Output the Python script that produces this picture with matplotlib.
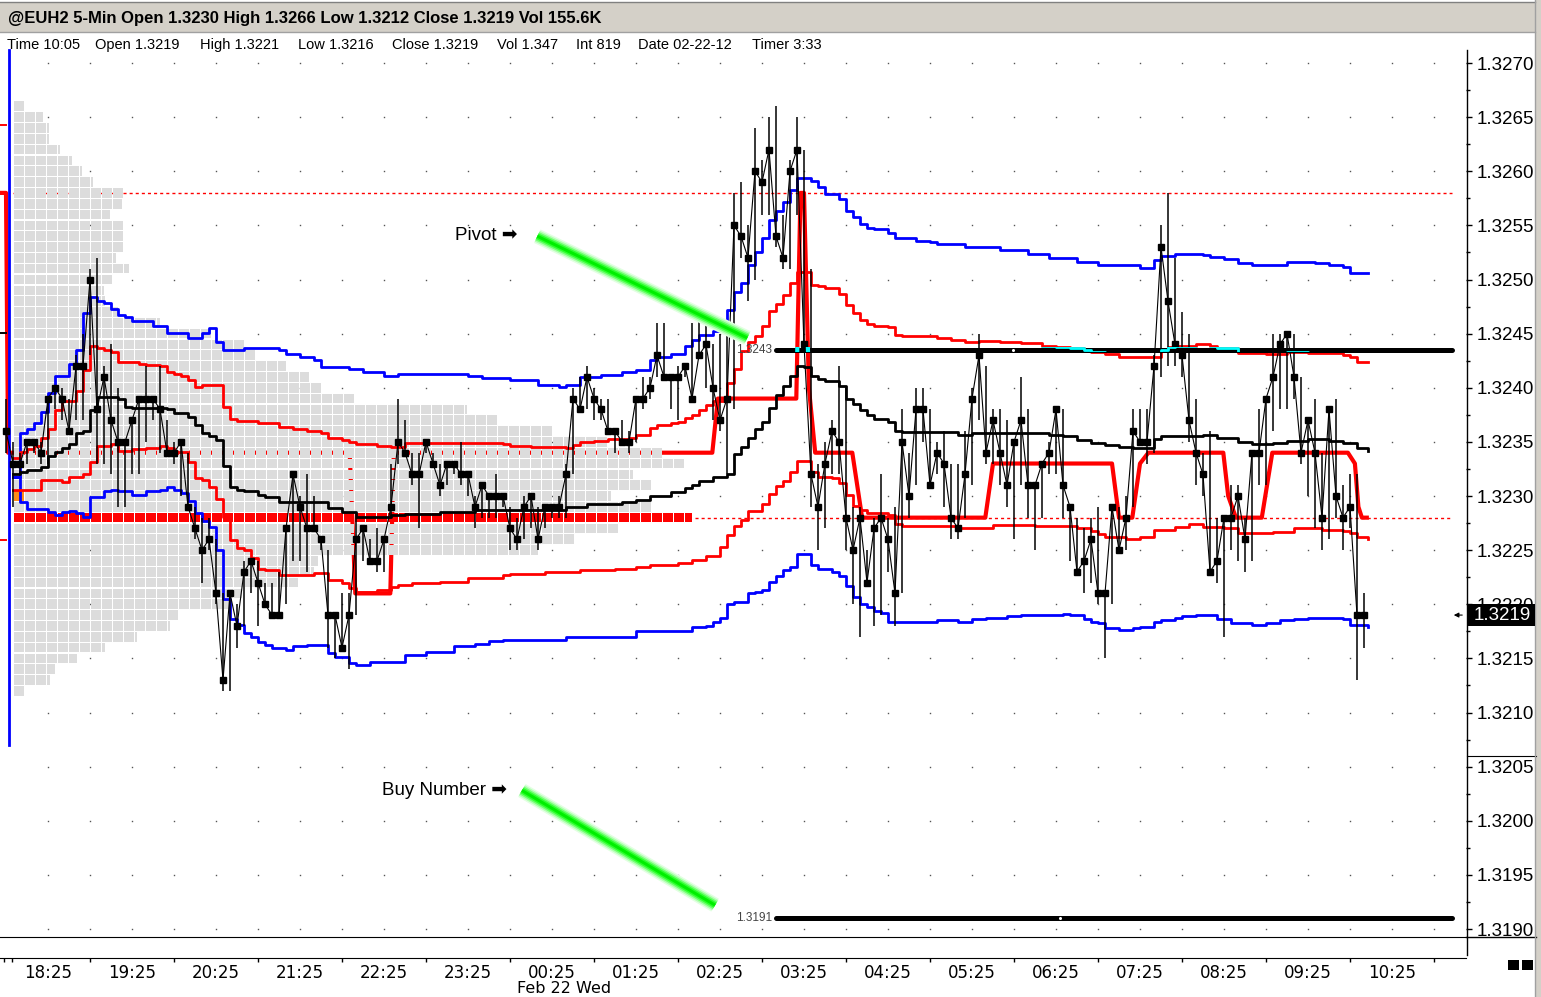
import numpy as np
import matplotlib
matplotlib.use("Agg")
import matplotlib.pyplot as plt
from matplotlib.patches import Rectangle
from matplotlib.collections import PatchCollection
from matplotlib.lines import Line2D
from matplotlib import font_manager, transforms

# ---------------------------------------------------------------- data
title_text = "@EUH2 5-Min Open 1.3230 High 1.3266 Low 1.3212 Close 1.3219 Vol 155.6K"
info_items = ["Time 10:05", "Open 1.3219", "High 1.3221", "Low 1.3216", "Close 1.3219",
              "Vol 1.347", "Int 819", "Date 02-22-12", "Timer 3:33"]
date_label = "Feb 22 Wed"
time_labels = ["18:25", "19:25", "20:25", "21:25", "22:25", "23:25", "00:25", "01:25", "02:25",
               "03:25", "04:25", "05:25", "06:25", "07:25", "08:25", "09:25", "10:25"]
price_ticks = [1.3190, 1.3195, 1.3200, 1.3205, 1.3210, 1.3215, 1.3220, 1.3225, 1.3230,
               1.3235, 1.3240, 1.3245, 1.3250, 1.3255, 1.3260, 1.3265, 1.3270]

first_bar = -1          # the 17:55 bar; bar 0 is the 18:00 session open
session_open = 1.3230
closes = [1.3236,
    1.3233, 1.3233, 1.3235, 1.3235, 1.3234, 1.3239, 1.3240, 1.3239, 1.3236, 1.3242, 1.3242, 1.3250,
    1.3238, 1.3241, 1.3237, 1.3235, 1.3235, 1.3237, 1.3239, 1.3239, 1.3239, 1.3238, 1.3234, 1.3234,
    1.3235, 1.3229, 1.3227, 1.3225, 1.3226, 1.3221, 1.3213, 1.3221, 1.3218, 1.3223, 1.3224, 1.3222,
    1.3220, 1.3219, 1.3219, 1.3227, 1.3232, 1.3229, 1.3227, 1.3227, 1.3226, 1.3219, 1.3219, 1.3216,
    1.3219, 1.3226, 1.3227, 1.3224, 1.3224, 1.3226, 1.3229, 1.3235, 1.3234, 1.3232, 1.3232, 1.3235,
    1.3233, 1.3231, 1.3233, 1.3233, 1.3232, 1.3232, 1.3229, 1.3231, 1.3230, 1.3230, 1.3230, 1.3227,
    1.3226, 1.3229, 1.3230, 1.3226, 1.3229, 1.3229, 1.3229, 1.3232, 1.3239, 1.3238, 1.3241, 1.3239,
    1.3238, 1.3236, 1.3236, 1.3235, 1.3235, 1.3239, 1.3239, 1.3240, 1.3243, 1.3241, 1.3241, 1.3241,
    1.3242, 1.3239, 1.3243, 1.3244, 1.3240, 1.3237, 1.3239, 1.3255, 1.3254, 1.3252, 1.3260, 1.3259,
    1.3262, 1.3254, 1.3252, 1.3260, 1.3262, 1.3244, 1.3232, 1.3229, 1.3233, 1.3236, 1.3235, 1.3228,
    1.3225, 1.3228, 1.3222, 1.3227, 1.3228, 1.3226, 1.3221, 1.3235, 1.3230, 1.3238, 1.3238, 1.3231,
    1.3234, 1.3233, 1.3228, 1.3227, 1.3232, 1.3239, 1.3243, 1.3234, 1.3237, 1.3234, 1.3231, 1.3235,
    1.3237, 1.3231, 1.3231, 1.3233, 1.3234, 1.3238, 1.3231, 1.3229, 1.3223, 1.3224, 1.3226, 1.3221,
    1.3221, 1.3229, 1.3225, 1.3228, 1.3236, 1.3235, 1.3235, 1.3242, 1.3253, 1.3248, 1.3244, 1.3243,
    1.3237, 1.3234, 1.3232, 1.3223, 1.3224, 1.3228, 1.3228, 1.3230, 1.3226, 1.3234, 1.3234, 1.3239,
    1.3241, 1.3244, 1.3245, 1.3241, 1.3234, 1.3237, 1.3234, 1.3228, 1.3238, 1.3230, 1.3228, 1.3229,
    1.3219, 1.3219]
highs = [1.3239,
    1.3235, 1.3234, 1.3235, 1.3235, 1.3235, 1.3239, 1.3240, 1.3240, 1.3239, 1.3243, 1.3245, 1.3251,
    1.3252, 1.3242, 1.3244, 1.3240, 1.3235, 1.3237, 1.3239, 1.3242, 1.3239, 1.3242, 1.3237, 1.3235,
    1.3235, 1.3234, 1.3229, 1.3228, 1.3228, 1.3226, 1.3221, 1.3221, 1.3220, 1.3224, 1.3224, 1.3224,
    1.3222, 1.3222, 1.3223, 1.3227, 1.3232, 1.3230, 1.3232, 1.3230, 1.3226, 1.3225, 1.3219, 1.3221,
    1.3221, 1.3228, 1.3227, 1.3226, 1.3227, 1.3226, 1.3233, 1.3239, 1.3237, 1.3234, 1.3234, 1.3235,
    1.3234, 1.3233, 1.3233, 1.3233, 1.3235, 1.3232, 1.3230, 1.3231, 1.3230, 1.3232, 1.3230, 1.3229,
    1.3228, 1.3230, 1.3230, 1.3229, 1.3229, 1.3229, 1.3230, 1.3233, 1.3240, 1.3241, 1.3242, 1.3240,
    1.3239, 1.3239, 1.3236, 1.3237, 1.3236, 1.3239, 1.3241, 1.3241, 1.3246, 1.3246, 1.3241, 1.3242,
    1.3242, 1.3246, 1.3247, 1.3246, 1.3244, 1.3245, 1.3246, 1.3258, 1.3259, 1.3255, 1.3264, 1.3261,
    1.3265, 1.3266, 1.3256, 1.3261, 1.3265, 1.3262, 1.3251, 1.3233, 1.3235, 1.3237, 1.3242, 1.3240,
    1.3229, 1.3229, 1.3225, 1.3228, 1.3232, 1.3228, 1.3229, 1.3238, 1.3234, 1.3240, 1.3240, 1.3238,
    1.3235, 1.3236, 1.3233, 1.3233, 1.3236, 1.3240, 1.3245, 1.3242, 1.3238, 1.3238, 1.3237, 1.3235,
    1.3241, 1.3238, 1.3231, 1.3233, 1.3235, 1.3238, 1.3238, 1.3229, 1.3228, 1.3227, 1.3228, 1.3229,
    1.3221, 1.3229, 1.3229, 1.3230, 1.3238, 1.3238, 1.3238, 1.3243, 1.3255, 1.3258, 1.3252, 1.3247,
    1.3245, 1.3239, 1.3234, 1.3236, 1.3228, 1.3228, 1.3231, 1.3231, 1.3228, 1.3234, 1.3238, 1.3239,
    1.3245, 1.3245, 1.3245, 1.3245, 1.3241, 1.3237, 1.3239, 1.3234, 1.3238, 1.3239, 1.3231, 1.3232,
    1.3232, 1.3221]
lows = [1.3234,
    1.3229, 1.3232, 1.3233, 1.3234, 1.3233, 1.3233, 1.3238, 1.3237, 1.3236, 1.3237, 1.3237, 1.3243,
    1.3233, 1.3233, 1.3232, 1.3229, 1.3229, 1.3232, 1.3232, 1.3235, 1.3237, 1.3234, 1.3234, 1.3233,
    1.3230, 1.3229, 1.3226, 1.3222, 1.3225, 1.3220, 1.3212, 1.3212, 1.3216, 1.3218, 1.3221, 1.3218,
    1.3220, 1.3219, 1.3219, 1.3220, 1.3224, 1.3224, 1.3223, 1.3227, 1.3225, 1.3216, 1.3215, 1.3216,
    1.3214, 1.3219, 1.3224, 1.3224, 1.3223, 1.3223, 1.3228, 1.3233, 1.3234, 1.3231, 1.3227, 1.3234,
    1.3233, 1.3230, 1.3231, 1.3232, 1.3231, 1.3230, 1.3227, 1.3228, 1.3228, 1.3228, 1.3229, 1.3225,
    1.3225, 1.3226, 1.3227, 1.3225, 1.3227, 1.3228, 1.3228, 1.3228, 1.3232, 1.3238, 1.3238, 1.3237,
    1.3237, 1.3236, 1.3234, 1.3235, 1.3234, 1.3235, 1.3238, 1.3239, 1.3241, 1.3241, 1.3238, 1.3237,
    1.3241, 1.3239, 1.3243, 1.3240, 1.3237, 1.3236, 1.3232, 1.3238, 1.3252, 1.3248, 1.3250, 1.3256,
    1.3256, 1.3253, 1.3251, 1.3251, 1.3256, 1.3244, 1.3229, 1.3225, 1.3227, 1.3232, 1.3232, 1.3225,
    1.3220, 1.3217, 1.3222, 1.3218, 1.3219, 1.3223, 1.3218, 1.3221, 1.3228, 1.3231, 1.3235, 1.3231,
    1.3232, 1.3229, 1.3226, 1.3226, 1.3228, 1.3231, 1.3237, 1.3233, 1.3233, 1.3231, 1.3229, 1.3226,
    1.3231, 1.3228, 1.3225, 1.3228, 1.3232, 1.3232, 1.3228, 1.3224, 1.3223, 1.3221, 1.3222, 1.3220,
    1.3215, 1.3220, 1.3225, 1.3225, 1.3229, 1.3235, 1.3233, 1.3234, 1.3241, 1.3242, 1.3242, 1.3241,
    1.3235, 1.3231, 1.3230, 1.3223, 1.3222, 1.3217, 1.3225, 1.3224, 1.3223, 1.3224, 1.3231, 1.3231,
    1.3236, 1.3238, 1.3238, 1.3239, 1.3233, 1.3230, 1.3227, 1.3225, 1.3226, 1.3228, 1.3225, 1.3227,
    1.3213, 1.3216]

# volume profile: price level and volume (in profile blocks)
profile_levels = [1.3266, 1.3265, 1.3264, 1.3263, 1.3262, 1.3261, 1.3260, 1.3259, 1.3258, 1.3257,
                  1.3256, 1.3255, 1.3254, 1.3253, 1.3252, 1.3251, 1.3250, 1.3249, 1.3248, 1.3247,
                  1.3246, 1.3245, 1.3244, 1.3243, 1.3242, 1.3241, 1.3240, 1.3239, 1.3238, 1.3237,
                  1.3236, 1.3235, 1.3234, 1.3233, 1.3232, 1.3231, 1.3230, 1.3229, 1.3228, 1.3227,
                  1.3226, 1.3225, 1.3224, 1.3223, 1.3222, 1.3221, 1.3220, 1.3219, 1.3218, 1.3217,
                  1.3216, 1.3215, 1.3214, 1.3213, 1.3212]
profile_volume = [1.0, 2.7, 3.3, 3.3, 4.3, 5.4, 6.3, 7.3, 10.0, 9.9,
                  8.8, 10.0, 10.0, 10.0, 9.4, 10.6, 9.0, 8.3, 8.4, 9.6,
                  13.4, 18.2, 21.0, 22.0, 24.8, 26.9, 28.0, 31.0, 41.3, 44.0,
                  49.0, 54.0, 59.0, 61.0, 56.4, 58.0, 54.4, 58.0, 61.7, 55.2,
                  51.2, 47.7, 27.7, 27.4, 25.9, 20.8, 19.8, 15.1, 14.3, 11.3,
                  8.4, 5.8, 3.8, 3.4, 1.0]

# bands: (bar index where value starts, value)
blue_upper = [(0, 1.32318), (1, 1.32358), (2, 1.32362), (3, 1.32367), (4, 1.32378), (5, 1.32395),
    (6, 1.32411), (8, 1.32422), (9, 1.32435), (10, 1.32469), (11, 1.32484), (12, 1.32480),
    (13, 1.32478), (14, 1.32473), (15, 1.32467), (16, 1.32465), (17, 1.32462), (20, 1.32457),
    (22, 1.32451), (25, 1.32446), (27, 1.32451), (28, 1.32455), (29, 1.32442), (30, 1.32435),
    (33, 1.32437), (38, 1.32435), (39, 1.32431), (41, 1.32428), (43, 1.32426), (44, 1.32419),
    (48, 1.32417), (50, 1.32415), (53, 1.32411), (55, 1.32413), (65, 1.32411), (67, 1.32409),
    (71, 1.32407), (75, 1.32403), (78, 1.32401), (79, 1.32403), (81, 1.32410), (84, 1.32412),
    (87, 1.32415), (89, 1.32416), (91, 1.32426), (92, 1.32428), (94, 1.32431), (96, 1.32439),
    (97, 1.32444), (98, 1.32449), (100, 1.32452), (101, 1.32455), (102, 1.32472), (103, 1.32488),
    (104, 1.32497), (105, 1.32513), (106, 1.32525), (107, 1.32538), (108, 1.32555), (109, 1.32563),
    (110, 1.32572), (111, 1.32583), (112, 1.32594), (114, 1.32591), (115, 1.32585), (116, 1.32579),
    (118, 1.32574), (119, 1.32563), (120, 1.32558), (121, 1.32551), (122, 1.32548), (123, 1.32547),
    (125, 1.32543), (126, 1.32538), (129, 1.32536), (131, 1.32535), (132, 1.32533), (136, 1.32530),
    (141, 1.32527), (145, 1.32524), (148, 1.32520), (152, 1.32516), (155, 1.32513), (161, 1.32511),
    (163, 1.32518), (164, 1.32522), (166, 1.32524), (170, 1.32523), (171, 1.32521), (173, 1.32519),
    (175, 1.32515), (177, 1.32513), (182, 1.32516), (186, 1.32515), (188, 1.32513), (190, 1.32512),
    (191, 1.32506), (193.5, 1.32506)]
blue_lower = [(0, 1.32318), (1, 1.32294), (2, 1.32288), (5, 1.32285), (6, 1.32282), (7, 1.32285),
    (8, 1.32286), (9, 1.32284), (10, 1.32281), (11, 1.32299), (13, 1.32305), (14, 1.32306),
    (15, 1.32305), (17, 1.32301), (19, 1.32305), (21, 1.32306), (22, 1.32308), (23, 1.32306),
    (24, 1.32303), (25, 1.32295), (26, 1.32284), (27, 1.32277), (28, 1.32271), (29, 1.32250),
    (30, 1.32205), (31, 1.32186), (32, 1.32181), (33, 1.32173), (34, 1.32170), (35, 1.32165),
    (36, 1.32162), (37, 1.32160), (39, 1.32158), (40, 1.32161), (42, 1.32162), (45, 1.32155),
    (46, 1.32151), (48, 1.32146), (49, 1.32144), (51, 1.32147), (56, 1.32153), (59, 1.32156),
    (63, 1.32161), (66, 1.32163), (68, 1.32166), (70, 1.32167), (79, 1.32170), (89, 1.32175),
    (97, 1.32179), (99, 1.32180), (100, 1.32184), (101, 1.32187), (102, 1.32200), (103, 1.32202),
    (105, 1.32210), (106, 1.32211), (107, 1.32213), (108, 1.32221), (109, 1.32226), (110, 1.32232),
    (111, 1.32234), (112, 1.32246), (114, 1.32236), (115, 1.32233), (117, 1.32230), (118, 1.32226),
    (119, 1.32217), (120, 1.32207), (121, 1.32200), (122, 1.32197), (123, 1.32194), (124, 1.32192),
    (125, 1.32184), (132, 1.32185), (135, 1.32184), (137, 1.32186), (139, 1.32187), (142, 1.32189),
    (144, 1.32190), (150, 1.32191), (151, 1.32190), (153, 1.32186), (154, 1.32184), (155, 1.32183),
    (156, 1.32178), (158, 1.32176), (160, 1.32178), (161, 1.32179), (163, 1.32184), (164, 1.32185),
    (166, 1.32187), (167, 1.32189), (169, 1.32190), (172, 1.32186), (174, 1.32183), (177, 1.32181),
    (179, 1.32183), (181, 1.32185), (183, 1.32186), (185, 1.32187), (190, 1.32186), (191, 1.32181),
    (193.5, 1.32179)]
red_upper = [(0, 1.32335), (1, 1.32341), (2, 1.32343), (3, 1.32346), (4, 1.32354), (5, 1.32362),
    (6, 1.32379), (7, 1.32388), (9, 1.32397), (10, 1.32416), (11, 1.32439), (12, 1.32437),
    (13, 1.32435), (14, 1.32433), (15, 1.32424), (18, 1.32422), (19, 1.32421), (21, 1.32420),
    (22, 1.32415), (23, 1.32413), (24, 1.32411), (25, 1.32407), (26, 1.32401), (27, 1.32403),
    (30, 1.32382), (31, 1.32371), (32, 1.32369), (35, 1.32367), (38, 1.32364), (40, 1.32362),
    (42, 1.32360), (44, 1.32358), (45, 1.32354), (47, 1.32352), (48, 1.32350), (49, 1.32348),
    (52, 1.32346), (54, 1.32345), (56, 1.32349), (70, 1.32348), (71, 1.32346), (74, 1.32345),
    (79, 1.32344), (80, 1.32347), (81, 1.32350), (83, 1.32351), (85, 1.32353), (88, 1.32354),
    (89, 1.32356), (91, 1.32363), (92, 1.32366), (94, 1.32367), (95, 1.32368), (96, 1.32372),
    (97, 1.32375), (98, 1.32379), (99, 1.32384), (100, 1.32388), (102, 1.32404), (103, 1.32417),
    (104, 1.32434), (105, 1.32442), (106, 1.32448), (107, 1.32457), (108, 1.32471), (109, 1.32477),
    (110, 1.32486), (111, 1.32497), (112, 1.32507), (114, 1.32495), (115, 1.32494), (116, 1.32492),
    (118, 1.32487), (119, 1.32476), (120, 1.32469), (121, 1.32463), (122, 1.32459), (123, 1.32457),
    (125, 1.32456), (126, 1.32449), (127, 1.32448), (132, 1.32446), (134, 1.32444), (136, 1.32442),
    (138, 1.32443), (141, 1.32442), (144, 1.32441), (147, 1.32439), (149, 1.32438), (151, 1.32437),
    (153, 1.32435), (154, 1.32433), (156, 1.32431), (158, 1.32428), (164, 1.32435), (165, 1.32438),
    (166, 1.32439), (169, 1.32440), (171, 1.32439), (172, 1.32437), (175, 1.32432), (179, 1.32431),
    (182, 1.32433), (185, 1.32432), (190, 1.32430), (191, 1.32428), (192, 1.32424), (193.5, 1.32424)]
red_lower = [(0, 1.32306), (4, 1.32315), (7, 1.32313), (8, 1.32318), (10, 1.32320), (11, 1.32331),
    (12, 1.32346), (14, 1.32348), (15, 1.32342), (17, 1.32343), (19, 1.32344), (21, 1.32346),
    (22, 1.32344), (23, 1.32341), (25, 1.32331), (26, 1.32317), (27, 1.32315), (28, 1.32308),
    (29, 1.32297), (30, 1.32281), (31, 1.32259), (32, 1.32252), (33, 1.32250), (34, 1.32243),
    (35, 1.32233), (36, 1.32232), (38, 1.32227), (43, 1.32229), (45, 1.32222), (47, 1.32220),
    (48, 1.32215), (49, 1.32211), (52, 1.32213), (54, 1.32216), (55, 1.32218), (57, 1.32220),
    (61, 1.32221), (65, 1.32224), (70, 1.32227), (71, 1.32228), (76, 1.32230), (81, 1.32232),
    (86, 1.32233), (89, 1.32234), (91, 1.32236), (95, 1.32238), (97, 1.32241), (99, 1.32245),
    (101, 1.32253), (102, 1.32264), (103, 1.32272), (104, 1.32278), (105, 1.32286), (107, 1.32293),
    (108, 1.32302), (109, 1.32309), (110, 1.32314), (111, 1.32322), (112, 1.32332), (114, 1.32322),
    (115, 1.32318), (117, 1.32317), (118, 1.32312), (119, 1.32301), (120, 1.32291), (121, 1.32287),
    (122, 1.32284), (125, 1.32282), (126, 1.32274), (127, 1.32272), (135, 1.32270), (140, 1.32273),
    (146, 1.32272), (152, 1.32270), (154, 1.32268), (155, 1.32265), (156, 1.32262), (159, 1.32260),
    (161, 1.32262), (163, 1.32269), (166, 1.32271), (168, 1.32274), (170, 1.32271), (173, 1.32270),
    (175, 1.32266), (180, 1.32267), (183, 1.32270), (187, 1.32269), (190, 1.32268), (191, 1.32266),
    (192, 1.32262), (193.5, 1.32260)]
vwap = [(0, 1.32320), (1, 1.32322), (2, 1.32324), (4, 1.32327), (5, 1.32337), (6, 1.32341),
    (7, 1.32344), (8, 1.32348), (9, 1.32358), (10, 1.32360), (11, 1.32379), (12, 1.32391),
    (15, 1.32390), (16, 1.32382), (17, 1.32381), (22, 1.32380), (23, 1.32377), (25, 1.32373),
    (26, 1.32366), (27, 1.32358), (28, 1.32355), (29, 1.32352), (30, 1.32328), (31, 1.32308),
    (32, 1.32306), (33, 1.32305), (35, 1.32301), (36, 1.32299), (38, 1.32294), (45, 1.32289),
    (47, 1.32285), (49, 1.32281), (54, 1.32282), (56, 1.32283), (61, 1.32285), (66, 1.32287),
    (79, 1.32290), (82, 1.32293), (87, 1.32294), (89, 1.32296), (91, 1.32300), (94, 1.32304),
    (96, 1.32307), (97, 1.32310), (98, 1.32314), (100, 1.32318), (102, 1.32320), (103, 1.32339),
    (104, 1.32345), (105, 1.32354), (106, 1.32362), (107, 1.32368), (108, 1.32381), (109, 1.32393),
    (110, 1.32402), (111, 1.32411), (112, 1.32420), (113, 1.32419), (114, 1.32411), (115, 1.32408),
    (116, 1.32406), (118, 1.32402), (119, 1.32390), (120, 1.32385), (121, 1.32379), (122, 1.32375),
    (123, 1.32371), (125, 1.32368), (126, 1.32360), (127, 1.32359), (135, 1.32356), (137, 1.32358),
    (148, 1.32356), (150, 1.32355), (152, 1.32352), (154, 1.32349), (156, 1.32347), (158, 1.32345),
    (160, 1.32344), (163, 1.32353), (164, 1.32355), (170, 1.32356), (172, 1.32354), (175, 1.32350),
    (177, 1.32348), (180, 1.32349), (182, 1.32351), (185, 1.32353), (188, 1.32351), (190, 1.32349),
    (192, 1.32344), (193.5, 1.32342)]
# thick red pivot-tracking line: (bar position, value)
pivot_track = [(-1.86, 1.3258), (-1.0, 1.3258), (-0.7, 1.3234), (48.1, 1.3234), (48.9, 1.3221),
    (53.9, 1.3221), (54.4, 1.3234), (99.9, 1.3234), (100.7, 1.3239), (111.9, 1.3239),
    (112.5, 1.3258), (113.0, 1.3258), (113.7, 1.3240), (114.6, 1.3234), (119.9, 1.3234),
    (121.3, 1.3228), (138.9, 1.3228), (140.0, 1.3233), (157.0, 1.3233), (158.0, 1.3228),
    (159.9, 1.3228), (161.0, 1.3233), (162.2, 1.3234), (172.9, 1.3234), (173.6, 1.3230),
    (174.7, 1.3228), (178.4, 1.3228), (179.9, 1.3234), (190.7, 1.3234), (191.7, 1.3233),
    (192.2, 1.3229), (192.7, 1.3228), (193.4, 1.3228)]

prior_high = 1.3258            # red dashed level
poc_level = 1.3228             # red dashed extension of the point of control
pivot_level, pivot_label = 1.32435, "1.3243"
buy_level, buy_label = 1.3191, "1.3191"
level_lines_from = 109         # bar index where the pivot / buy lines start
left_marks = [(1.32643, "red"), (1.32451, "black"), (1.32259, "red")]
session_line_low = 1.3207

# ---------------------------------------------------------------- geometry
W, H = 1541.0, 997.0
def FX(px): return px / W
def FY(py): return 1.0 - py / H

PXB = 7.0              # pixels per bar
X0 = 13.0              # pixel x of bar 0
PPP = 108250.0         # pixels per price unit
YTOP, PTOP = 63.0, 1.3270

avail = {f.name for f in font_manager.fontManager.ttflist}
if "Liberation Sans Narrow" in avail:
    PFONT, PSIZE = ["Liberation Sans Narrow", "DejaVu Sans"], 16
else:
    PFONT, PSIZE = ["Liberation Sans", "DejaVu Sans"], 13.5
SANS = ["Liberation Sans", "DejaVu Sans"]

fig = plt.figure(figsize=(W / 100, H / 100), dpi=100)
fig.patch.set_facecolor("white")

ax = fig.add_axes([0, FY(936), FX(1466), (936 - 33) / H])
xmin, xmax = (0 - X0) / PXB, (1466 - X0) / PXB
ax.set_xlim(xmin, xmax)
ax.set_ylim(PTOP - (936 - YTOP) / PPP, PTOP + (YTOP - 33) / PPP)
ax.set_facecolor("white")
for s in ax.spines.values():
    s.set_visible(False)
ax.set_xticks([])

# right price axis
ax.yaxis.tick_right()
ax.set_yticks(price_ticks)
ax.set_yticklabels([f"{p:.4f}" for p in price_ticks], fontfamily=PFONT, fontsize=PSIZE)
ax.set_yticks([p + 0.00025 for p in price_ticks[:-1]], minor=True)
ax.tick_params(axis="y", which="major", direction="out", length=4, width=1, pad=3.5)
ax.tick_params(axis="y", which="minor", direction="out", length=3, width=1)

# dot grid
gx = np.arange(5, xmax, 6)
gy = np.array(price_ticks)
GX, GY = np.meshgrid(gx, gy)
ax.plot(GX.ravel(), GY.ravel(), ls="none", marker="s", ms=1.0, mew=0, color="#555555", zorder=0.5)

x_bars = np.arange(len(closes)) + first_bar
closes_a = np.array(closes)
highs_a = np.maximum(np.array(highs), closes_a)
lows_a = np.minimum(np.array(lows), closes_a)

# dashed reference levels (under profile)
ax.plot([0, 205.6], [prior_high, prior_high], color="red", lw=1.0, dashes=(2.2, 2.2), zorder=1)
ax.plot([97.4, 205.6], [poc_level, poc_level], color="red", lw=1.0, dashes=(2.2, 2.2), zorder=1)

# thick red tracking line
pt_x = [p[0] for p in pivot_track]
pt_y = [p[1] for p in pivot_track]
ax.plot(pt_x, pt_y, color="red", lw=3.0, solid_joinstyle="round", zorder=1.5)

# volume profile blocks
cell_x0 = (14 - X0) / PXB
pitch = 11.0 / PXB
cw = 9.8 / PXB
ch = 9.6 / PPP
poc_i = int(np.argmax(profile_volume))
gray_cells, red_cells, orange_cells = [], [], []
for j, (lvl, vol) in enumerate(zip(profile_levels, profile_volume)):
    nfull = int(vol + 1e-9)
    widths = [cw] * nfull
    frac = vol - nfull
    if frac * 11.0 > 2.5:
        widths.append(min(cw, frac * pitch - 1.2 / PXB))
    for k, w in enumerate(widths):
        r = Rectangle((cell_x0 + k * pitch, lvl - ch / 2), w, ch)
        if j == poc_i:
            red_cells.append(r)
        elif k == 0 and abs(lvl - session_open) < 1e-6:
            orange_cells.append(r)
        else:
            gray_cells.append(r)
ax.add_collection(PatchCollection(gray_cells, facecolor="#DCDCDC", edgecolor="none", zorder=2))
ax.add_collection(PatchCollection(red_cells, facecolor="#FF0000", edgecolor="none", zorder=2))
ax.add_collection(PatchCollection(orange_cells, facecolor="#FF8C1A", edgecolor="none", zorder=2))

# session start line and left markers
ax.plot([-0.57, -0.57], [session_line_low, PTOP + 13 / PPP], color="#0000FF", lw=2.0, zorder=3)
for v, c in left_marks:
    ax.plot([xmin, -0.95], [v, v], color=c, lw=1.4, zorder=3)

# bands
def band(pairs, color, lw=2.0):
    xs = [p[0] for p in pairs]
    ys = [p[1] for p in pairs]
    return ax.plot(xs, ys, color=color, lw=lw, drawstyle="steps-post", zorder=3)[0]

band(blue_upper, "#0000FF")
band(blue_lower, "#0000FF")
band(red_upper, "#FF0000")
band(red_lower, "#FF0000")
band(vwap, "black")

# price bars
ax.vlines(x_bars, lows_a, highs_a, color="black", lw=1.1, zorder=4)
ax.plot(x_bars, closes_a, color="black", lw=0.8, marker="s", ms=3.8, mfc="black", mec="black",
        zorder=4.2)

# pivot and buy level lines
for lvl, lab, gap_at in [(pivot_level, pivot_label, 142.9), (buy_level, buy_label, 149.6)]:
    ax.plot([level_lines_from, 205.6], [lvl, lvl], color="black", lw=3.6, solid_capstyle="round",
            zorder=5)
    ax.plot([gap_at], [lvl], ls="none", marker="o", ms=2.2, mfc="white", mec="none", zorder=5.1)
    ax.text(level_lines_from - 0.6, lvl, lab, ha="right", va="center", fontsize=8.5,
            color="#444444", family=SANS, zorder=5)

# cyan where red lines cross the pivot line
clip = Rectangle((level_lines_from - 0.3, pivot_level - 2.4 / PPP), 205.9 - level_lines_from,
                 4.8 / PPP, transform=ax.transData)
cy1, = ax.plot([p[0] for p in red_upper], [p[1] for p in red_upper], color="#00FFFF", lw=2.0,
               drawstyle="steps-post", zorder=5.2)
cy2, = ax.plot(pt_x, pt_y, color="#00FFFF", lw=3.0, zorder=5.2)
cy1.set_clip_path(clip)
cy2.set_clip_path(clip)

# green highlighter strokes with labels
def glow(x0, y0, x1, y1):
    for lw, col in [(15, "#e2ffe2"), (12, "#b4ffb4"), (9, "#70ff70"), (6, "#2cff2c"), (3, "#00ee00")]:
        ax.plot([x0, x1], [y0, y1], color=col, lw=lw * 0.72, solid_capstyle="butt", zorder=6)

glow(74.9, 1.32540, 104.9, 1.32446)
glow(72.7, 1.32028, 100.3, 1.31922)
ax.text(63.1, 1.32541, "Pivot \u27a1", ha="left", va="center", fontsize=13.5, family=SANS, zorder=6)
ax.text(52.7, 1.32028, "Buy Number \u27a1", ha="left", va="center", fontsize=13.5, family=SANS,
        zorder=6)

# current price marker
bt = transforms.blended_transform_factory(fig.transFigure, ax.transData)
last = closes[-1]
fig.add_artist(Rectangle((FX(1468), last - 11 / PPP), FX(1535) - FX(1468), 22 / PPP,
                         transform=bt, facecolor="black", edgecolor="none", zorder=5))
fig.text(FX(1474), last, f"{last:.4f}", transform=bt, color="white", ha="left", va="center",
         fontsize=PSIZE, family=PFONT, zorder=6)
ax.annotate("", xy=((1451 - X0) / PXB, last), xytext=((1465 - X0) / PXB, last),
            arrowprops=dict(arrowstyle="-|>", color="black", lw=0.8, mutation_scale=7),
            annotation_clip=False, zorder=6)

# time axis strip
tax = fig.add_axes([0, FY(958), FX(1466), (958 - 937) / H])
tax.set_xlim(xmin, xmax)
tax.set_ylim(0, 1)
tax.set_yticks([])
tax.spines["left"].set_visible(False)
tax.spines["right"].set_visible(False)
tax.set_xticks(np.arange(len(time_labels)) * 12 + 5)
tax.set_xticklabels(time_labels, fontsize=12, family=["DejaVu Sans"])
tax.set_xticks([first_bar - 0.3, -0.15] + list(np.arange(11, xmax, 12)), minor=True)
tax.tick_params(axis="x", which="major", length=0, pad=4.0)
tax.tick_params(axis="x", which="minor", length=3, width=1, direction="out")
fig.text(FX(564), FY(988.5), date_label, ha="center", va="center", fontsize=11.5,
         family=["DejaVu Sans"])

# frame, title bar, right panel lines
fig.add_artist(Line2D([FX(1467), FX(1467)], [FY(50), FY(955)], color="black", lw=1))
fig.add_artist(Line2D([FX(1466), FX(1536)], [FY(936.5), FY(936.5)], color="black", lw=1))
fig.add_artist(Line2D([FX(1467), FX(1536)], [FY(756), FY(756)], color="black", lw=0.8))
fig.add_artist(Rectangle((0, FY(32)), FX(1535), (32 - 3) / H, transform=fig.transFigure,
                         facecolor="#D4D0C8", edgecolor="none"))
fig.add_artist(Line2D([0, FX(1535)], [FY(2.5), FY(2.5)], color="#808080", lw=1))
fig.add_artist(Line2D([0, FX(1535)], [FY(32.5), FY(32.5)], color="#A0A0A0", lw=1))
fig.add_artist(Rectangle((FX(1535), 0), FX(6), 1, transform=fig.transFigure,
                         facecolor="#D4D0C8", edgecolor="none"))
fig.add_artist(Line2D([FX(1535), FX(1535)], [0, 1], color="#A0A0A0", lw=1))
for x0 in (1508, 1522):
    fig.add_artist(Rectangle((FX(x0), FY(970)), FX(11), 10 / H, transform=fig.transFigure,
                             facecolor="black", edgecolor="none"))

fig.text(FX(8), FY(18), title_text, ha="left", va="center", fontsize=12, fontweight="bold",
         family=SANS)
info_x = [7, 95, 200, 298, 392, 497, 576, 638, 752]
for xp, txt in zip(info_x, info_items):
    fig.text(FX(xp), FY(45), txt, ha="left", va="center", fontsize=10.5, family=SANS)

fig.savefig("out.png", dpi=100)
